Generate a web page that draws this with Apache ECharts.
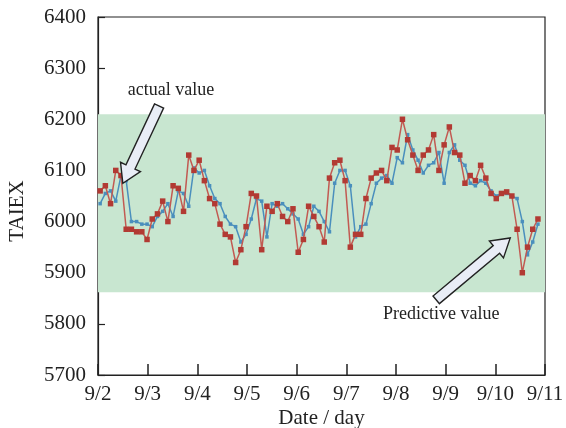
<!DOCTYPE html>
<html><head><meta charset="utf-8">
<script src="https://cdn.jsdelivr.net/npm/echarts@6/dist/echarts.min.js"></script>
<style>html,body{margin:0;padding:0;background:#fff}#c{width:566px;height:428px}</style>
</head><body><div id="c"></div>
<script>
// Tick labels (one per day)
const dayLabels = ['9/2','9/3','9/4','9/5','9/6','9/7','9/8','9/9','9/10','9/11'];
const yTicks = [5700, 5800, 5900, 6000, 6100, 6200, 6300, 6400];

// Sample timing (days after 9/2)
const firstSampleDay = 0.043;
const sampleStepDay = 0.10494;

// Predictive value (red)
const predicted = [
  6060, 6070, 6035, 6100, 6090, 5985, 5985, 5980, 5980, 5965,
  6005, 6015, 6040, 6000, 6070, 6065, 6020, 6130, 6100, 6120,
  6080, 6045, 6035, 5995, 5975, 5970, 5920, 5945, 5990, 6055,
  6050, 5945, 6030, 6020, 6035, 6010, 6000, 6025, 5940, 5965,
  6030, 6010, 5990, 5960, 6085, 6115, 6120, 6080, 5950, 5975,
  5975, 6045, 6085, 6095, 6100, 6080, 6145, 6140, 6200, 6160,
  6130, 6100, 6130, 6140, 6170, 6100, 6150, 6185, 6135, 6130,
  6075, 6090, 6080, 6110, 6085, 6055, 6045, 6055, 6058, 6050,
  5985, 5900, 5950, 5985, 6005
];
// Actual value (blue)
const actual = [
  6035, 6055, 6060, 6040, 6090, 6080, 6000, 6000, 5995, 5995,
  5990, 6010, 6020, 6035, 6010, 6060, 6055, 6030, 6105, 6095,
  6100, 6070, 6045, 6035, 6010, 5995, 5990, 5960, 5975, 6005,
  6045, 6040, 5970, 6035, 6030, 6035, 6025, 6015, 6005, 5975,
  5990, 6030, 6020, 6000, 5980, 6075, 6100, 6100, 6070, 5970,
  5990, 5995, 6035, 6075, 6085, 6090, 6075, 6125, 6115, 6170,
  6140, 6120, 6095, 6110, 6115, 6135, 6075, 6135, 6150, 6120,
  6110, 6075, 6070, 6080, 6075, 6060, 6050, 6055, 6055, 6050,
  6045, 6000, 5935, 5960, 5995
];
// Shaded band range
const bandRange = [5862, 6210];

// Annotations: [tailX, tailY, tipX, tipY] in data units, text position
const actualArrow = [1.23, 6226, 0.50, 6075];
const actualText = [1.47, 6257];
const predArrow = [6.81, 5847, 8.30, 5968];
const predText = [6.91, 5819];

const FONT = '"Liberation Serif", "Times New Roman", serif';
const FS = 21;
const toPairs = arr => arr.map((v, i) => [firstSampleDay + i * sampleStepDay, v]);

const chart = echarts.init(document.getElementById('c'), null, {renderer: 'canvas'});
chart.setOption({
  animation: false,
  backgroundColor: '#fff',
  grid: {left: 98, right: 21, top: 17, bottom: 53, outerBoundsMode: 'none', containLabel: false,
    show: true, borderColor: '#222', borderWidth: 1.2, backgroundColor: 'transparent'},
  xAxis: {
    type: 'value', min: 0, max: 9, interval: 1,
    name: 'Date / day', nameLocation: 'middle', nameGap: 33, nameMoveOverlap: false,
    nameTextStyle: {fontFamily: FONT, fontSize: FS, color: '#222'},
    axisLine: {show: true, onZero: false, lineStyle: {color: '#222', width: 1.2}},
    axisTick: {show: true, inside: true, length: 11, lineStyle: {color: '#222', width: 1.5}},
    axisLabel: {fontFamily: FONT, fontSize: FS, color: '#222', margin: 9,
      formatter: v => dayLabels[Math.round(v)] || ''},
    splitLine: {show: false}
  },
  yAxis: {
    type: 'value', min: yTicks[0], max: yTicks[yTicks.length - 1], interval: 100,
    name: 'TAIEX', nameLocation: 'middle', nameGap: 70, nameRotate: 90, nameMoveOverlap: false,
    nameTextStyle: {fontFamily: FONT, fontSize: FS, color: '#222', padding: [0, 30, 0, 0]},
    axisLine: {show: true, lineStyle: {color: '#222', width: 1.2}},
    axisTick: {show: true, inside: true, length: 7, lineStyle: {color: '#222', width: 1.2}},
    axisLabel: {fontFamily: FONT, fontSize: FS, color: '#222', margin: 12, formatter: v => String(v)},
    splitLine: {show: false}
  },
  series: [
    {
      name: 'Actual', type: 'line', data: toPairs(actual),
      symbol: 'rect', symbolSize: 3.5, showSymbol: true,
      itemStyle: {color: '#4a8fbd'},
      lineStyle: {color: '#4a8fbd', width: 1.5},
      z: 3,
      markArea: {
        silent: true,
        itemStyle: {color: '#c8e6d0'},
        data: [[{yAxis: bandRange[0]}, {yAxis: bandRange[1]}]]
      }
    },
    {
      name: 'Predictive', type: 'line', data: toPairs(predicted),
      symbol: 'rect', symbolSize: 5.5, showSymbol: true,
      itemStyle: {color: '#b23a33'},
      lineStyle: {color: '#c25a52', width: 1.5},
      z: 4
    }
  ]
});

function arrowPoly(a) {
  const p0 = chart.convertToPixel({gridIndex: 0}, [a[0], a[1]]);
  const p1 = chart.convertToPixel({gridIndex: 0}, [a[2], a[3]]);
  const dx = p1[0] - p0[0], dy = p1[1] - p0[1];
  const L = Math.hypot(dx, dy), ux = dx / L, uy = dy / L, nx = -uy, ny = ux;
  const hw = 5, hh = 11, hl = 18;
  const bx = p1[0] - ux * hl, by = p1[1] - uy * hl;
  return [
    [p0[0] + nx * hw, p0[1] + ny * hw],
    [bx + nx * hw, by + ny * hw],
    [bx + nx * hh, by + ny * hh],
    [p1[0], p1[1]],
    [bx - nx * hh, by - ny * hh],
    [bx - nx * hw, by - ny * hw],
    [p0[0] - nx * hw, p0[1] - ny * hw]
  ];
}
function textAt(pos, str) {
  const p = chart.convertToPixel({gridIndex: 0}, pos);
  return {type: 'text', x: p[0], y: p[1], z: 20,
    style: {text: str, fontFamily: FONT, fontSize: 18, fill: '#222', align: 'center', verticalAlign: 'middle'}};
}
chart.setOption({
  graphic: [
    {type: 'polygon', z: 20, shape: {points: arrowPoly(actualArrow)}, style: {fill: '#e9edf6', stroke: '#222', lineWidth: 1.4}},
    {type: 'polygon', z: 20, shape: {points: arrowPoly(predArrow)}, style: {fill: '#e9edf6', stroke: '#222', lineWidth: 1.4}},
    textAt(actualText, 'actual value'),
    textAt(predText, 'Predictive value')
  ]
});
</script></body></html>
